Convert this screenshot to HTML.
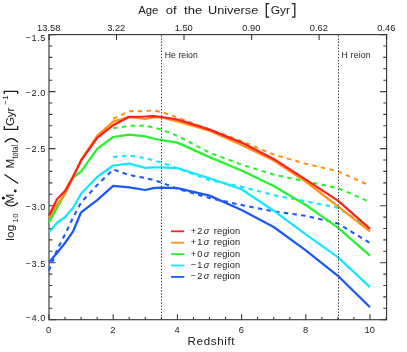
<!DOCTYPE html><html><head><meta charset="utf-8"><style>html,body{margin:0;padding:0;background:#fff}svg{display:block;will-change:transform}text{font-family:"Liberation Sans",sans-serif;fill:#1a1a1a}</style></head><body>
<svg width="407" height="352" viewBox="0 0 407 352">
<rect width="407" height="352" fill="#fff"/>
<rect x="49.0" y="34.6" width="337.6" height="285.1" fill="none" stroke="#3a3a3a" stroke-width="1.15"/>
<path d="M49.0 34.6h6.5M386.6 34.6h-6.5M49.0 46.0h3.3M386.6 46.0h-3.3M49.0 57.4h3.3M386.6 57.4h-3.3M49.0 68.8h3.3M386.6 68.8h-3.3M49.0 80.2h3.3M386.6 80.2h-3.3M49.0 91.6h6.5M386.6 91.6h-6.5M49.0 103.0h3.3M386.6 103.0h-3.3M49.0 114.4h3.3M386.6 114.4h-3.3M49.0 125.8h3.3M386.6 125.8h-3.3M49.0 137.2h3.3M386.6 137.2h-3.3M49.0 148.6h6.5M386.6 148.6h-6.5M49.0 160.0h3.3M386.6 160.0h-3.3M49.0 171.4h3.3M386.6 171.4h-3.3M49.0 182.9h3.3M386.6 182.9h-3.3M49.0 194.3h3.3M386.6 194.3h-3.3M49.0 205.7h6.5M386.6 205.7h-6.5M49.0 217.1h3.3M386.6 217.1h-3.3M49.0 228.5h3.3M386.6 228.5h-3.3M49.0 239.9h3.3M386.6 239.9h-3.3M49.0 251.3h3.3M386.6 251.3h-3.3M49.0 262.7h6.5M386.6 262.7h-6.5M49.0 274.1h3.3M386.6 274.1h-3.3M49.0 285.5h3.3M386.6 285.5h-3.3M49.0 296.9h3.3M386.6 296.9h-3.3M49.0 308.3h3.3M386.6 308.3h-3.3M49.0 319.7h6.5M386.6 319.7h-6.5M49.0 319.7v-5.5M65.0 319.7v-2.7M81.1 319.7v-2.7M97.2 319.7v-2.7M113.2 319.7v-5.5M129.2 319.7v-2.7M145.3 319.7v-2.7M161.4 319.7v-2.7M177.4 319.7v-5.5M193.5 319.7v-2.7M209.5 319.7v-2.7M225.6 319.7v-2.7M241.6 319.7v-5.5M257.6 319.7v-2.7M273.7 319.7v-2.7M289.8 319.7v-2.7M305.8 319.7v-5.5M321.9 319.7v-2.7M337.9 319.7v-2.7M353.9 319.7v-2.7M370.0 319.7v-5.5M386.1 319.7v-2.7M49.0 34.6v5.5M116.5 34.6v5.5M184.0 34.6v5.5M251.6 34.6v5.5M319.1 34.6v5.5M386.6 34.6v5.5" stroke="#3a3a3a" stroke-width="1.1" fill="none"/>
<polyline fill="none" stroke="#1c58f5" stroke-width="2.05" stroke-dasharray="4.5 4.26" stroke-linejoin="round" points="49.0,270.7 57.0,250.0 65.0,234.5 73.1,217.5 81.1,202.5 97.2,185.0 113.2,169.5 129.2,175.0 145.3,178.0 153.3,180.0 161.4,182.5 177.4,188.8 209.5,198.0 241.6,205.0 273.7,211.4 305.8,215.8 337.9,223.5 370.0,243.0"/>
<polyline fill="none" stroke="#1c58f5" stroke-width="2.25" stroke-linejoin="round" points="49.0,262.2 57.0,253.0 65.0,243.0 73.1,231.3 81.1,212.3 97.2,200.1 113.2,185.8 129.2,187.3 145.3,190.0 153.3,188.2 161.4,187.6 177.4,188.1 209.5,195.6 241.6,210.0 273.7,227.0 305.8,250.3 337.9,275.8 370.0,307.2"/>
<polyline fill="none" stroke="#14e6ff" stroke-width="2.05" stroke-dasharray="4.5 4.26" stroke-linejoin="round" points="113.2,157.0 129.2,155.6 145.3,158.1 153.3,160.4 161.4,162.7 177.4,168.2 209.5,180.2 241.6,186.7 273.7,195.1 305.8,201.3 337.9,207.7 370.0,227.6"/>
<polyline fill="none" stroke="#14e6ff" stroke-width="2.25" stroke-linejoin="round" points="49.0,232.4 57.0,222.8 65.0,217.3 73.1,207.8 81.1,193.8 97.2,177.0 113.2,165.5 129.2,163.6 145.3,167.8 153.3,167.4 161.4,167.3 177.4,168.1 209.5,178.2 241.6,189.3 273.7,210.7 305.8,234.3 337.9,257.1 370.0,287.1"/>
<polyline fill="none" stroke="#26f22e" stroke-width="2.05" stroke-dasharray="4.5 4.26" stroke-linejoin="round" points="113.2,128.3 129.2,125.8 145.3,125.6 153.3,127.5 161.4,129.6 177.4,135.8 209.5,152.6 241.6,164.6 273.7,174.6 305.8,181.3 337.9,188.1 370.0,202.0"/>
<polyline fill="none" stroke="#26f22e" stroke-width="2.25" stroke-linejoin="round" points="49.0,222.4 57.0,207.9 65.0,193.6 73.1,177.5 81.1,171.5 97.2,148.9 113.2,137.0 129.2,134.6 145.3,136.3 153.3,138.5 161.4,140.1 177.4,142.6 209.5,157.1 241.6,170.5 273.7,186.0 305.8,205.0 337.9,227.6 370.0,255.6"/>
<polyline fill="none" stroke="#ff9314" stroke-width="2.05" stroke-dasharray="4.5 4.26" stroke-linejoin="round" points="113.2,118.8 129.2,111.3 145.3,111.2 153.3,110.3 161.4,112.0 177.4,117.5 209.5,129.3 241.6,141.3 273.7,154.6 305.8,163.8 337.9,171.3 370.0,185.6"/>
<polyline fill="none" stroke="#ff9314" stroke-width="2.25" stroke-linejoin="round" points="49.0,217.6 57.0,205.0 65.0,193.8 73.1,177.4 81.1,160.2 97.2,135.8 113.2,121.6 129.2,117.2 145.3,119.0 153.3,117.3 161.4,117.5 177.4,121.3 209.5,130.6 241.6,145.0 273.7,160.6 305.8,181.5 337.9,206.3 370.0,231.4"/>
<polyline fill="none" stroke="#ff2020" stroke-width="2.25" stroke-linejoin="round" points="49.0,215.6 57.0,199.3 65.0,191.0 73.1,176.6 81.1,160.5 97.2,137.8 113.2,125.2 129.2,116.8 145.3,116.5 153.3,116.1 161.4,117.0 177.4,119.5 209.5,129.6 241.6,142.6 273.7,158.9 305.8,179.6 337.9,200.6 370.0,228.8"/>
<line x1="161.5" y1="35.34" x2="161.5" y2="319.7" stroke="#3a3a3a" stroke-width="1" stroke-dasharray="1.4 1.67"/>
<line x1="338.5" y1="35.34" x2="338.5" y2="319.7" stroke="#3a3a3a" stroke-width="1" stroke-dasharray="1.4 1.67"/>
<text x="25.5" y="41.0" font-size="9.3" textLength="19.9">−1.5</text>
<text x="25.5" y="95.7" font-size="9.3" textLength="19.9">−2.0</text>
<text x="25.5" y="152.1" font-size="9.3" textLength="19.9">−2.5</text>
<text x="25.5" y="209.6" font-size="9.3" textLength="19.9">−3.0</text>
<text x="25.5" y="266.6" font-size="9.3" textLength="19.9">−3.5</text>
<text x="25.5" y="320.6" font-size="9.3" textLength="19.9">−4.0</text>
<text x="48.7" y="333" font-size="9.3" text-anchor="middle">0</text>
<text x="112.9" y="333" font-size="9.3" text-anchor="middle">2</text>
<text x="177.1" y="333" font-size="9.3" text-anchor="middle">4</text>
<text x="241.3" y="333" font-size="9.3" text-anchor="middle">6</text>
<text x="305.5" y="333" font-size="9.3" text-anchor="middle">8</text>
<text x="369.7" y="333" font-size="9.3" text-anchor="middle">10</text>
<text x="48.7" y="31" font-size="9.3" text-anchor="middle">13.58</text>
<text x="116.2" y="31" font-size="9.3" text-anchor="middle">3.22</text>
<text x="183.7" y="31" font-size="9.3" text-anchor="middle">1.50</text>
<text x="251.3" y="31" font-size="9.3" text-anchor="middle">0.90</text>
<text x="318.8" y="31" font-size="9.3" text-anchor="middle">0.62</text>
<text x="386.3" y="31" font-size="9.3" text-anchor="middle">0.46</text>
<text x="138.2" y="14" font-size="11.8" textLength="20.2" lengthAdjust="spacingAndGlyphs">Age</text>
<text x="165.7" y="14" font-size="11.8" textLength="10.9" lengthAdjust="spacingAndGlyphs">of</text>
<text x="184.0" y="14" font-size="11.8" textLength="18.2" lengthAdjust="spacingAndGlyphs">the</text>
<text x="208.0" y="14" font-size="11.8" textLength="50.3" lengthAdjust="spacingAndGlyphs">Universe</text>
<text x="270.8" y="14" font-size="11.8" textLength="19.3" lengthAdjust="spacingAndGlyphs">Gyr</text>
<path d="M269.3,3.6H266.3V17H269.3M291.8,3.6H294.8V17H291.8" fill="none" stroke="#1a1a1a" stroke-width="1.25"/>
<text x="187.6" y="345.1" font-size="11.6" textLength="47">Redshift</text>
<text x="164.8" y="58" font-size="8.7" textLength="33" fill="#333">He reion</text>
<text x="341.6" y="57.9" font-size="8.7" textLength="29" fill="#333">H reion</text>
<g transform="translate(14.25,241) rotate(-90)">
<text x="0.3" y="0" font-size="11.6" textLength="16">log</text>
<text x="18.4" y="3.4" font-size="7.6" textLength="9">10</text>
<path d="M38.3,-9.6Q31.8,-3 38.3,3.7" fill="none" stroke="#1a1a1a" stroke-width="1.25"/>
<text x="37.5" y="0" font-size="11.6">M</text>
<circle cx="43.0" cy="-10.9" r="1.6" fill="#1a1a1a"/><circle cx="50" cy="1.05" r="1.4" fill="#1a1a1a"/>
<path d="M57.6,3.9L66.5,-9.7" fill="none" stroke="#1a1a1a" stroke-width="1.25"/>
<text x="72.6" y="0" font-size="11.6">M</text>
<text x="82.6" y="3.6" font-size="8.6" textLength="13.4" lengthAdjust="spacingAndGlyphs">total</text>
<path d="M98.7,-9.6Q106.3,-3 98.7,3.7" fill="none" stroke="#1a1a1a" stroke-width="1.25"/>
<path d="M115,-10H111.6V3.4H115" fill="none" stroke="#1a1a1a" stroke-width="1.25"/>
<text x="115" y="0" font-size="11.6" textLength="18.3">Gyr</text>
<text x="136.2" y="-6.1" font-size="8" textLength="9.4">−1</text>
<path d="M147,-10H149.6V3.4H147" fill="none" stroke="#1a1a1a" stroke-width="1.25"/>
</g>
<line x1="171" x2="184.2" y1="231.3" y2="231.3" stroke="#ff2020" stroke-width="1.8"/>
<text x="190.7" y="234" font-size="9.2" textLength="18.6">+2<tspan font-style="italic">σ</tspan></text>
<text x="213.8" y="234" font-size="9.2" textLength="26.4">region</text>
<line x1="171" x2="184.2" y1="242.7" y2="242.7" stroke="#ff9314" stroke-width="1.8"/>
<text x="190.7" y="245" font-size="9.2" textLength="18.6">+1<tspan font-style="italic">σ</tspan></text>
<text x="213.8" y="245" font-size="9.2" textLength="26.4">region</text>
<line x1="171" x2="184.2" y1="254.1" y2="254.1" stroke="#26f22e" stroke-width="1.8"/>
<text x="190.7" y="257" font-size="9.2" textLength="18.6">+0<tspan font-style="italic">σ</tspan></text>
<text x="213.8" y="257" font-size="9.2" textLength="26.4">region</text>
<line x1="171" x2="184.2" y1="265.5" y2="265.5" stroke="#14e6ff" stroke-width="1.8"/>
<text x="190.7" y="268" font-size="9.2" textLength="18.6">−1<tspan font-style="italic">σ</tspan></text>
<text x="213.8" y="268" font-size="9.2" textLength="26.4">region</text>
<line x1="171" x2="184.2" y1="276.9" y2="276.9" stroke="#1c58f5" stroke-width="1.8"/>
<text x="190.7" y="279" font-size="9.2" textLength="18.6">−2<tspan font-style="italic">σ</tspan></text>
<text x="213.8" y="279" font-size="9.2" textLength="26.4">region</text>
</svg></body></html>
